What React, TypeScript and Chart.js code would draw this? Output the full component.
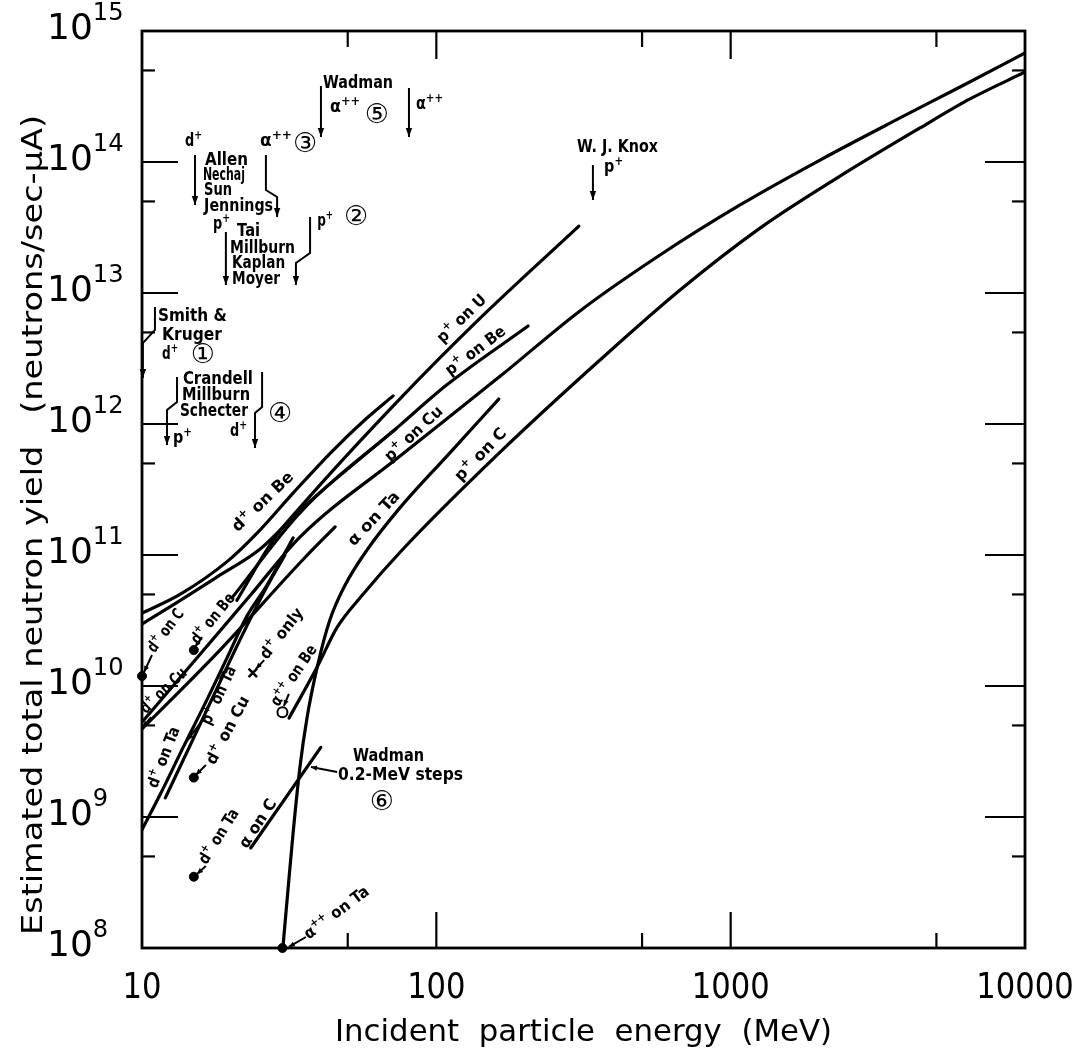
import React, { useEffect, useRef } from "react";
import { Chart, registerables } from "chart.js";

Chart.register(...registerables);

// ---------------- axes ----------------
const X_MIN = 10;
const X_MAX = 10000;
const Y_MIN = 1e8;
const Y_MAX = 1e15;
const xTickValues = [10, 100, 1000, 10000];
const xTickLabels = ["10", "100", "1000", "10000"];
const xMinorTicks = [50, 500, 5000];
const yExponents = [8, 9, 10, 11, 12, 13, 14, 15];
const yMinorTicks = [5e8, 5e9, 5e10, 5e11, 5e12, 5e13, 5e14];

// ---------------- curves: energy (MeV) / yield (n per s per µA) ----------------
const pCuE = [10, 15.7, 23.3, 34.4, 75.3, 165, 307.6, 575.4, 1076, 2012, 3762, 6017, 10000];
const pCuY = [5.3e9, 1.73e10, 4.9e10, 1.37e11, 5.7e11, 2.32e12, 7.3e12, 1.95e13, 4.7e13, 1.035e14, 2.17e14, 3.74e14, 6.8e14];

const pCE = [31.6, 39.4, 46, 55.9, 75.3, 166, 359.7, 673, 1258, 2352, 4399, 6505, 10000];
const pCY = [5.7e9, 1.4e10, 2.8e10, 4.9e10, 1.05e11, 6.2e11, 3.08e12, 1.055e13, 3.13e13, 7.8e13, 1.82e14, 3.03e14, 4.86e14];

const pUE = [21, 27.9, 34.4, 73.4, 140.6, 305];
const pUY = [4.5e10, 1.3e11, 2.3e11, 1.47e12, 6.4e12, 3.24e13];

const pBeE = [20.2, 34.4, 75.3, 108.6, 205];
const pBeY = [4.7e10, 2.1e11, 9.8e11, 1.99e12, 5.6e12];

const dBeE = [10, 13.46, 19.45, 24.6, 32.6, 44.6, 58.1, 71.3];
const dBeY = [3.6e10, 5.0e10, 8.9e10, 1.47e11, 2.97e11, 6.3e11, 1.11e12, 1.64e12];

const dCE = [10, 13.5, 18, 25.2, 34.4, 50.9, 73];
const dCY = [2.97e10, 4.5e10, 6.8e10, 1.11e11, 2.2e11, 4.7e11, 9.2e11];

const dCuE = [10, 18.4, 35.2, 45.3];
const dCuY = [4.7e9, 1.88e10, 9.2e10, 1.64e11];

const dTaE = [10, 11.5, 13.8, 16.6, 19.5, 22.7, 26.6, 32.6];
const dTaY = [8.0e8, 1.47e9, 3.4e9, 7.8e9, 1.66e10, 3.4e10, 5.9e10, 1.35e11];

const pTaE = [12, 14.6, 17.7, 21.5, 26.2, 30.6];
const pTaY = [1.4e9, 3.55e9, 8.9e9, 2.24e10, 5.4e10, 1.0e11];

const aTaE = [30.1, 31.1, 32.6, 34.4, 36.4, 39.4, 43.5, 49, 58.1, 75.3, 111, 163];
const aTaY = [1.0e8, 2.3e8, 7.5e8, 2.4e9, 5.8e9, 1.4e10, 3.2e10, 5.9e10, 1.09e11, 2.3e11, 6.0e11, 1.55e12];

const aCE = [23.4, 40.5];
const aCY = [5.8e8, 3.4e9];

// ---------------- single measurements ----------------
const dotE = [10, 15, 15, 15, 30];
const dotY = [1.19e10, 1.88e10, 2.0e9, 3.5e8, 1.0e8];
const crossE = [23.8];
const crossY = [1.26e10];
const openE = [30];
const openY = [6.3e9];

const curves = [
  { name: "p+ on Cu", e: pCuE, y: pCuY },
  { name: "p+ on C", e: pCE, y: pCY },
  { name: "p+ on U", e: pUE, y: pUY },
  { name: "p+ on Be", e: pBeE, y: pBeY },
  { name: "d+ on Be", e: dBeE, y: dBeY },
  { name: "d+ on C", e: dCE, y: dCY },
  { name: "d+ on Cu", e: dCuE, y: dCuY },
  { name: "d+ on Ta", e: dTaE, y: dTaY },
  { name: "p+ on Ta", e: pTaE, y: pTaY },
  { name: "alpha on Ta", e: aTaE, y: aTaY },
  { name: "alpha on C", e: aCE, y: aCY },
];

// ---------------- annotations (positions in log10 E, log10 yield) ----------------
// [text, log E of left edge, log Y of centre, width px]
const notes: [string, number, number, number][] = [
  ["Wadman", 1.615, 14.611, 70],
  ["α{++}", 1.639, 14.427, 30],
  ["α{++}", 1.931, 14.45, 27],
  ["d{+}", 1.146, 14.168, 17],
  ["Allen", 1.214, 14.023, 43],
  ["Nechaj", 1.207, 13.908, 42],
  ["Sun", 1.211, 13.794, 28],
  ["Jennings", 1.211, 13.672, 69],
  ["α{++}", 1.401, 14.168, 32],
  ["p{+}", 1.241, 13.534, 17],
  ["Tai", 1.323, 13.481, 23],
  ["Millburn", 1.299, 13.351, 65],
  ["Kaplan", 1.306, 13.237, 53],
  ["Moyer", 1.306, 13.115, 48],
  ["p{+}", 1.595, 13.557, 16],
  ["Smith &", 1.054, 12.832, 69],
  ["Kruger", 1.068, 12.687, 60],
  ["d{+}", 1.068, 12.542, 16],
  ["Crandell", 1.139, 12.351, 70],
  ["Millburn", 1.136, 12.229, 68],
  ["Schecter", 1.129, 12.107, 68],
  ["p{+}", 1.105, 11.901, 19],
  ["d{+}", 1.299, 11.954, 17],
  ["W. J. Knox", 2.478, 14.122, 81],
  ["p{+}", 2.57, 13.969, 19],
  ["Wadman", 1.717, 9.473, 71],
  ["0.2-MeV steps", 1.666, 9.328, 125],
];
const circled: [string, number, number][] = [
  ["⑤", 1.798, 14.374],
  ["③", 1.554, 14.153],
  ["②", 1.727, 13.595],
  ["①", 1.207, 12.542],
  ["④", 1.469, 12.092],
  ["⑥", 1.815, 9.13],
];
// [text, log E centre, log Y centre, angle deg, width px]
const alongLabels: [string, number, number, number, number][] = [
  ["p{+} on U", 2.084, 12.809, -44, 62],
  ["p{+} on Be", 2.131, 12.565, -37, 71],
  ["p{+} on Cu", 1.921, 11.931, -43, 73],
  ["p{+} on C", 2.148, 11.771, -46, 67],
  ["α on Ta", 1.785, 11.282, -47, 68],
  ["d{+} on Be", 1.408, 11.412, -44, 79],
  ["d{+} on C", 1.078, 10.427, -53, 50],
  ["d{+} on Be", 1.238, 10.519, -51, 60],
  ["d{+} on Cu", 1.071, 9.969, -44, 58],
  ["d{+} on Ta", 1.071, 9.458, -69, 64],
  ["p{+} on Ta", 1.258, 9.931, -65, 63],
  ["d{+} on Cu", 1.289, 9.664, -62, 75],
  ["d{+} only", 1.472, 10.405, -52, 60],
  ["α{++} on Be", 1.513, 10.084, -56, 70],
  ["α on C", 1.391, 8.954, -57, 55],
  ["d{+} on Ta", 1.258, 8.855, -58, 62],
  ["α{++} on Ta", 1.659, 8.275, -37, 77],
];
// short leader arrows [from lx, ly, to lx, ly]
const leaders: number[][] = [
  [1.034, 10.237, 1.007, 10.107],
  [1.204, 10.374, 1.18, 10.298],
  [1.415, 10.198, 1.387, 10.13],
  [1.499, 9.939, 1.482, 9.847],
  [1.217, 9.397, 1.183, 9.321],
  [1.217, 8.626, 1.187, 8.565],
  [1.2, 9.725, 1.156, 9.588],
  [1.031, 9.763, 1.003, 9.687],
  [1.557, 8.084, 1.499, 8.008],
  [1.663, 9.344, 1.574, 9.382],
];
// reference pointers (polylines ending in arrow)
const pointers: number[][] = [
  [1.608, 14.58, 1.608, 14.191],
  [1.907, 14.565, 1.907, 14.191],
  [1.18, 14.053, 1.18, 13.672],
  [1.421, 14.053, 1.421, 13.786, 1.459, 13.733, 1.459, 13.58],
  [1.285, 13.466, 1.285, 13.061],
  [1.571, 13.58, 1.571, 13.305, 1.523, 13.229, 1.523, 13.061],
  [1.044, 12.893, 1.044, 12.718, 1.003, 12.618, 1.003, 12.351],
  [1.119, 12.359, 1.119, 12.168, 1.085, 12.107, 1.085, 11.84],
  [1.408, 12.397, 1.408, 12.13, 1.384, 12.084, 1.384, 11.817],
  [2.532, 13.977, 2.532, 13.71],
];

const FONT = '"DejaVu Sans", "Liberation Sans", sans-serif';

type RichOpts = {
  size?: number;
  weight?: string;
  align?: "left" | "center" | "right";
  rot?: number;
  width?: number;
  sx?: number;
  supScale?: number;
  rise?: number;
};

function parseRich(s: string) {
  const out: { t: string; sup: boolean }[] = [];
  const re = /\{([^}]*)\}/g;
  let last = 0;
  let m: RegExpExecArray | null;
  while ((m = re.exec(s))) {
    if (m.index > last) out.push({ t: s.slice(last, m.index), sup: false });
    out.push({ t: m[1], sup: true });
    last = re.lastIndex;
  }
  if (last < s.length) out.push({ t: s.slice(last), sup: false });
  return out;
}

function drawRich(ctx: CanvasRenderingContext2D, text: string, x: number, y: number, o: RichOpts) {
  const size = o.size ?? 16;
  const wt = o.weight ?? "bold";
  const supScale = o.supScale ?? 0.72;
  const rise = o.rise ?? 0.42;
  const segs = parseRich(text);
  let total = 0;
  const widths = segs.map((s) => {
    ctx.font = `${wt} ${s.sup ? size * supScale : size}px ${FONT}`;
    const w = ctx.measureText(s.t).width;
    total += w;
    return w;
  });
  const sx = o.width ? o.width / total : o.sx ?? 1;
  ctx.save();
  ctx.translate(x, y);
  if (o.rot) ctx.rotate((o.rot * Math.PI) / 180);
  ctx.scale(sx, 1);
  let cx = o.align === "center" ? -total / 2 : o.align === "right" ? -total : 0;
  const base = size * 0.36;
  ctx.textBaseline = "alphabetic";
  ctx.textAlign = "left";
  ctx.fillStyle = "#000";
  segs.forEach((s, i) => {
    ctx.font = `${wt} ${s.sup ? size * supScale : size}px ${FONT}`;
    ctx.fillText(s.t, cx, s.sup ? base - size * rise : base);
    cx += widths[i];
  });
  ctx.restore();
}

function arrowHead(ctx: CanvasRenderingContext2D, x0: number, y0: number, x1: number, y1: number, len = 8, hw = 3.2) {
  const a = Math.atan2(y1 - y0, x1 - x0);
  const c = Math.cos(a);
  const s = Math.sin(a);
  ctx.beginPath();
  ctx.moveTo(x1, y1);
  ctx.lineTo(x1 - len * c + hw * s, y1 - len * s - hw * c);
  ctx.lineTo(x1 - len * c - hw * s, y1 - len * s + hw * c);
  ctx.closePath();
  ctx.fill();
}

const decor = {
  id: "decor",
  afterDraw(chart: any) {
    const ctx: CanvasRenderingContext2D = chart.ctx;
    const xs = chart.scales.x;
    const ys = chart.scales.y;
    const { left, right, top, bottom } = chart.chartArea;
    const X = (lx: number) => xs.getPixelForValue(Math.pow(10, lx));
    const Y = (ly: number) => ys.getPixelForValue(Math.pow(10, ly));
    ctx.save();
    ctx.strokeStyle = "#000";
    ctx.fillStyle = "#000";
    ctx.lineCap = "butt";

    // frame
    ctx.lineWidth = 2.8;
    ctx.strokeRect(left, top, right - left, bottom - top);

    // ticks
    ctx.lineWidth = 2.2;
    const seg = (x0: number, y0: number, x1: number, y1: number) => {
      ctx.beginPath();
      ctx.moveTo(x0, y0);
      ctx.lineTo(x1, y1);
      ctx.stroke();
    };
    yExponents.slice(1, -1).forEach((e) => {
      const py = ys.getPixelForValue(Math.pow(10, e));
      seg(left, py, left + 36, py);
      seg(right, py, right - 40, py);
    });
    yMinorTicks.forEach((v) => {
      const py = ys.getPixelForValue(v);
      seg(left, py, left + 13, py);
      seg(right, py, right - 13, py);
    });
    xTickValues.slice(1, -1).forEach((v) => {
      const px = xs.getPixelForValue(v);
      seg(px, top, px, top + 28);
      seg(px, bottom, px, bottom - 36);
    });
    xMinorTicks.forEach((v) => {
      const px = xs.getPixelForValue(v);
      seg(px, top, px, top + 16);
      seg(px, bottom, px, bottom - 15);
    });

    // tick labels
    yExponents.forEach((e) => {
      const py = ys.getPixelForValue(Math.pow(10, e));
      drawRich(ctx, `10{${e}}`, left - 95, py - 5, { size: 36, weight: "normal", supScale: 0.67, rise: 0.52 });
    });
    xTickValues.forEach((v, i) => {
      const px = xs.getPixelForValue(v);
      drawRich(ctx, xTickLabels[i], px, bottom + 37, { size: 36, weight: "normal", align: "center", sx: 0.85 });
    });

    // axis titles
    drawRich(ctx, "Incident  particle  energy  (MeV)", (left + right) / 2, bottom + 82, {
      size: 30,
      weight: "normal",
      align: "center",
      width: 497,
    });
    drawRich(ctx, "Estimated total neutron yield   (neutrons/sec-μA)", left - 110, 525, {
      size: 28,
      weight: "normal",
      align: "center",
      rot: -90,
      width: 820,
    });

    // annotations
    notes.forEach(([t, lx, ly, w]) => drawRich(ctx, t, X(lx), Y(ly), { size: 17, width: w }));
    circled.forEach(([t, lx, ly]) => drawRich(ctx, t, X(lx), Y(ly), { size: 27, weight: "normal", align: "center" }));
    alongLabels.forEach(([t, lx, ly, a, w]) => drawRich(ctx, t, X(lx), Y(ly), { size: 16, align: "center", rot: a, width: w }));

    ctx.lineWidth = 2;
    leaders.forEach(([a, b, c, d]) => {
      const x0 = X(a), y0 = Y(b), x1 = X(c), y1 = Y(d);
      seg(x0, y0, x1, y1);
      arrowHead(ctx, x0, y0, x1, y1, 6, 2.6);
    });
    pointers.forEach((p) => {
      ctx.beginPath();
      for (let i = 0; i < p.length; i += 2) {
        const px = X(p[i]);
        const py = Y(p[i + 1]);
        if (i === 0) ctx.moveTo(px, py);
        else ctx.lineTo(px, py);
      }
      ctx.stroke();
      const n = p.length;
      arrowHead(ctx, X(p[n - 4]), Y(p[n - 3]), X(p[n - 2]), Y(p[n - 1]), 9, 3.2);
    });
    ctx.restore();
  },
};

export default function App() {
  const ref = useRef<HTMLCanvasElement | null>(null);
  useEffect(() => {
    if (!ref.current) return;
    const lineSets = curves.map((c) => ({
      type: "line" as const,
      label: c.name,
      data: c.e.map((e, i) => ({ x: e, y: c.y[i] })),
      borderColor: "#000",
      borderWidth: 3.2,
      pointRadius: 0,
      fill: false,
      cubicInterpolationMode: "monotone" as const,
      borderCapStyle: "round" as const,
      borderJoinStyle: "round" as const,
    }));
    const dots = {
      type: "scatter" as const,
      label: "measured",
      data: dotE.map((e, i) => ({ x: e, y: dotY[i] })),
      pointRadius: 4.5,
      pointBackgroundColor: "#000",
      pointBorderColor: "#000",
      showLine: false,
      clip: false as any,
    };
    const cross = {
      type: "scatter" as const,
      label: "d+ only",
      data: crossE.map((e, i) => ({ x: e, y: crossY[i] })),
      pointStyle: "crossRot" as const,
      pointRadius: 6,
      pointBorderWidth: 2.5,
      pointBorderColor: "#000",
      showLine: false,
      clip: false as any,
    };
    const open = {
      type: "scatter" as const,
      label: "alpha++ on Be",
      data: openE.map((e, i) => ({ x: e, y: openY[i] })),
      pointRadius: 5,
      pointBorderWidth: 2,
      pointBackgroundColor: "#fff",
      pointBorderColor: "#000",
      showLine: false,
      clip: false as any,
    };
    const chart = new Chart(ref.current, {
      type: "line",
      data: { datasets: [...lineSets, dots, cross, open] as any },
      options: {
        animation: false,
        responsive: false,
        devicePixelRatio: 1,
        events: [],
        layout: { padding: { left: 142, right: 52, top: 31, bottom: 106 } },
        plugins: { legend: { display: false }, tooltip: { enabled: false }, title: { display: false } },
        scales: {
          x: { type: "logarithmic", min: X_MIN, max: X_MAX, display: false },
          y: { type: "logarithmic", min: Y_MIN, max: Y_MAX, display: false },
        },
      },
      plugins: [decor],
    });
    return () => chart.destroy();
  }, []);
  return (
    <div style={{ position: "absolute", left: 0, top: 0, width: 1077, height: 1054, background: "#fff" }}>
      <canvas ref={ref} width={1077} height={1054} style={{ display: "block" }} />
    </div>
  );
}
